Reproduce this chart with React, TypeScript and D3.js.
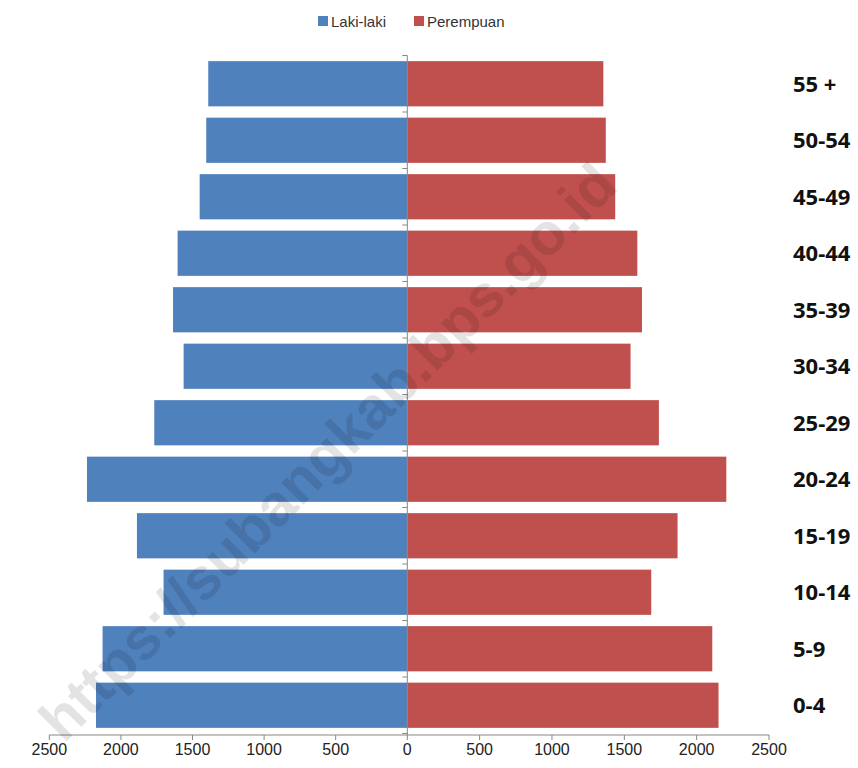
import React from "react";
import * as d3 from "d3";

const categories = ["55 +", "50-54", "45-49", "40-44", "35-39", "30-34", "25-29", "20-24", "15-19", "10-14", "5-9", "0-4"];
const lakiLaki = [1390, 1404, 1450, 1604, 1636, 1562, 1767, 2237, 1888, 1702, 2128, 2174];
const perempuan = [1355, 1372, 1437, 1590, 1622, 1543, 1739, 2205, 1868, 1686, 2108, 2151];
const tickValues = [-2500, -2000, -1500, -1000, -500, 0, 500, 1000, 1500, 2000, 2500];
const seriesNames = ["Laki-laki", "Perempuan"];
const seriesColors = ["#4F81BD", "#C0504D"];
const watermark = "https://subangkab.bps.go.id";

export default function App() {
  const W = 858, H = 768;
  const x = d3.scaleLinear().domain([-2500, 0, 2500]).range([49.3, 407.3, 769]);
  const y = d3.scaleBand<string>().domain(categories).range([55.5, 733.5]).paddingInner(0.2).paddingOuter(0.1);
  const axisY = 735;
  const step = y.step();
  const bandStarts = categories.map((_, i) => 55.5 + i * step);
  bandStarts.push(55.5 + categories.length * step);

  return (
    <div style={{ position: "absolute", left: 0, top: 0, width: W, height: H, background: "#fff" }}>
      <svg width={W} height={H} style={{ display: "block" }}>
        <rect width={W} height={H} fill="#fff" />
        {/* legend */}
        <g fontFamily="'Liberation Sans', Arial, sans-serif" fontSize={15} fill="#333">
          <rect x={318} y={16} width={10} height={10} fill={seriesColors[0]} />
          <text x={331} y={26.5}>{seriesNames[0]}</text>
          <rect x={414} y={16} width={10} height={10} fill={seriesColors[1]} />
          <text x={427} y={26.5}>{seriesNames[1]}</text>
        </g>
        {/* bars */}
        {categories.map((c, i) => (
          <g key={c}>
            <rect x={x(-lakiLaki[i])} y={y(c)} width={x(0) - x(-lakiLaki[i])} height={y.bandwidth()} fill={seriesColors[0]} />
            <rect x={x(0)} y={y(c)} width={x(perempuan[i]) - x(0)} height={y.bandwidth()} fill={seriesColors[1]} />
          </g>
        ))}
        {/* vertical axis */}
        <line x1={x(0)} x2={x(0)} y1={55.5} y2={axisY} stroke="#868686" strokeWidth={1} />
        {bandStarts.map((b, i) => (
          <line key={i} x1={x(0) - 5} x2={x(0)} y1={b} y2={b} stroke="#868686" strokeWidth={1} />
        ))}
        {/* x axis */}
        <line x1={x(-2500)} x2={x(2500)} y1={axisY} y2={axisY} stroke="#868686" strokeWidth={1} />
        {tickValues.map((t) => (
          <g key={t}>
            <line x1={x(t)} x2={x(t)} y1={axisY} y2={axisY + 5} stroke="#868686" strokeWidth={1} />
            <text x={x(t)} y={755} textAnchor="middle" fontFamily="'Liberation Sans', Arial, sans-serif" fontSize={16} fill="#222">
              {Math.abs(t)}
            </text>
          </g>
        ))}
        {/* category labels */}
        {categories.map((c) => (
          <text key={c} x={793} y={(y(c) as number) + y.bandwidth() / 2 + 8} fontFamily="'Open Sans', 'Liberation Sans', sans-serif" fontWeight="bold" fontSize={22} fill="#111">
            {c}
          </text>
        ))}
        {/* watermark */}
        <text
          x={0}
          y={0}
          transform="translate(328,452) rotate(-45)"
          textAnchor="middle"
          dominantBaseline="central"
          fontFamily="'Liberation Sans', Arial, sans-serif"
          fontWeight="bold"
          fontSize={59}
          fill="#000"
          fillOpacity={0.11}
        >
          {watermark}
        </text>
      </svg>
    </div>
  );
}
